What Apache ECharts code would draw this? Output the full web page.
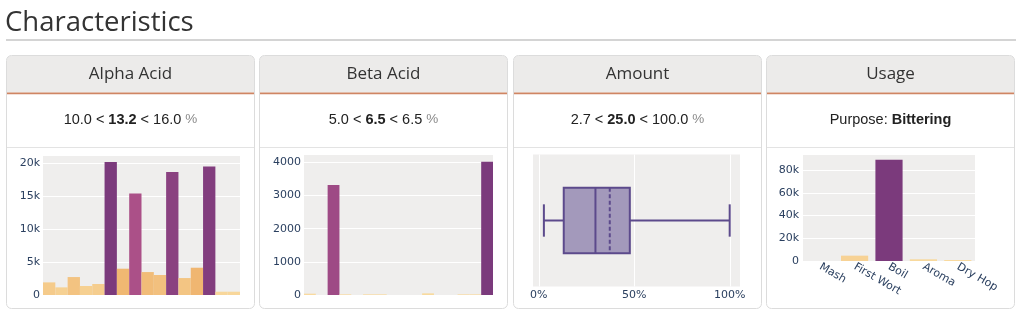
<!DOCTYPE html>
<html>
<head>
<meta charset="utf-8">
<script src="https://cdn.jsdelivr.net/npm/echarts@6.0.0/dist/echarts.min.js"></script>
<style>
  html, body { margin: 0; padding: 0; background: #ffffff; }
  #chart { width: 1024px; height: 322px; }
</style>
</head>
<body>
<div id="chart"></div>
<script>
// ---------------- data ----------------
const pageTitle = 'Characteristics';
const cardTitles = ['Alpha Acid', 'Beta Acid', 'Amount', 'Usage'];
const alphaStats = [10.0, 13.2, 16.0];
const betaStats = [5.0, 6.5, 6.5];
const amountStats = [2.7, 25.0, 100.0];
const purposeLabel = 'Purpose:';
const purposeValue = 'Bittering';

const alphaBins = ['b1','b2','b3','b4','b5','b6','b7','b8','b9','b10','b11','b12','b13','b14','b15','b16'];
const alphaCounts = [1920, 1160, 2730, 1370, 1670, 20250, 4000, 15440, 3490, 3040, 18730, 2580, 4150, 19540, 500, 500];
const alphaTicks = [0, 5000, 10000, 15000, 20000];

const betaBins = ['b1','b2','b3','b4','b5','b6','b7','b8','b9','b10','b11','b12','b13','b14','b15','b16'];
const betaCounts = [40, 0, 3317, 20, 0, 20, 20, 0, 0, 0, 50, 0, 0, 20, 20, 4020];
const betaTicks = [0, 1000, 2000, 3000, 4000];

const amountBox = [2.7, 13.1, 29.7, 47.7, 100.0];   // min, q1, median, q3, max
const amountMean = 37.2;
const amountTicks = [0, 50, 100];

const usageCategories = ['Mash', 'First Wort', 'Boil', 'Aroma', 'Dry Hop'];
const usageValues = [0, 4700, 89100, 1500, 900];
const usageTicks = [0, 20000, 40000, 60000, 80000];

// ---------------- styling ----------------
const colorScale = ['#f9dca1', '#eeae66', '#d0687f', '#ad5189', '#7b3a7c'];
const labelColor = '#2a3f5f';
const labelFont = 'DejaVu Sans';
const plotBg = '#efeeed';
const cardX0 = 6, cardPitch = 253.4, cardW = 249, cardTop = 55, cardBottom = 309;

const chart = echarts.init(document.getElementById('chart'), null, { renderer: 'canvas' });

function kfmt(v) {
  if (v === 0) return '0';
  return (v / 1000) + 'k';
}
function tickFormatter(ticks, fmt) {
  return function (v) {
    for (const t of ticks) { if (Math.abs(t - v) < 1e-6) return fmt(t); }
    return '';
  };
}

// ---------------- cards (graphic) ----------------
const graphics = [];
graphics.push({
  type: 'text',
  style: { x: 5, y: 23, text: pageTitle, verticalAlign: 'middle', fontFamily: 'Open Sans', fontWeight: 'normal', fontSize: 27.5, fill: '#333333' }
});
graphics.push({
  type: 'line', shape: { x1: 6, y1: 40, x2: 1016, y2: 40 },
  style: { stroke: '#d4d4d4', lineWidth: 2 }
});

const statTexts = [
  { text: '{n|' + alphaStats[0].toFixed(1) + ' < }{b|' + alphaStats[1].toFixed(1) + '}{n| < ' + alphaStats[2].toFixed(1) + ' }{u|%}' },
  { text: '{n|' + betaStats[0].toFixed(1) + ' < }{b|' + betaStats[1].toFixed(1) + '}{n| < ' + betaStats[2].toFixed(1) + ' }{u|%}' },
  { text: '{n|' + amountStats[0].toFixed(1) + ' < }{b|' + amountStats[1].toFixed(1) + '}{n| < ' + amountStats[2].toFixed(1) + ' }{u|%}' },
  { text: '{n|' + purposeLabel + ' }{b|' + purposeValue + '}' }
];
const richStyles = {
  n: { fontFamily: 'Liberation Sans', fontSize: 14.5, fill: '#222222' },
  b: { fontFamily: 'Liberation Sans', fontSize: 14.5, fontWeight: 'bold', fill: '#222222' },
  u: { fontFamily: 'Liberation Sans', fontSize: 13.5, fill: '#8a8a8a' }
};

cardTitles.forEach(function (title, i) {
  const x = Math.round(cardX0 + i * cardPitch);
  const cx = x + cardW / 2;
  // card outline
  graphics.push({
    type: 'rect', z: 5,
    shape: { x: x + 0.5, y: cardTop + 0.5, width: cardW - 1, height: cardBottom - cardTop - 1, r: 5 },
    style: { fill: 'none', stroke: '#dcdcdc', lineWidth: 1 }
  });
  // header
  graphics.push({
    type: 'rect', z: 1,
    shape: { x: x + 1, y: cardTop + 1, width: cardW - 2, height: 92.5 - cardTop - 1, r: [4, 4, 0, 0] },
    style: { fill: '#ecebea' }
  });
  graphics.push({
    type: 'line', z: 2,
    shape: { x1: x + 1, y1: 93.3, x2: x + cardW - 1, y2: 93.3 },
    style: { stroke: '#cf8563', lineWidth: 1.8 }
  });
  graphics.push({
    type: 'line', z: 2,
    shape: { x1: x + 1, y1: 147.5, x2: x + cardW - 1, y2: 147.5 },
    style: { stroke: '#e3e3e3', lineWidth: 1 }
  });
  graphics.push({
    type: 'text', z: 3,
    style: {
      x: cx, y: 74.5, text: title, align: 'center', verticalAlign: 'middle',
      fontFamily: 'Open Sans', fontSize: 17, fill: '#333333'
    }
  });
  graphics.push({
    type: 'text', z: 3,
    style: {
      x: cx, y: 119.5, text: statTexts[i].text, align: 'center', verticalAlign: 'middle',
      rich: richStyles
    }
  });
});

// ---------------- axes ----------------
const axisLabelBase = { color: labelColor, fontFamily: labelFont, fontSize: 11 };
const whiteSplit = { show: true, lineStyle: { color: '#ffffff', width: 1 } };

const grids = [
  { left: 43, top: 155, width: 197, height: 140 },
  { left: 304, top: 154.5, width: 189, height: 140.5 },
  { left: 533, top: 154.5, width: 207, height: 132 },
  { left: 803, top: 154.5, width: 172, height: 106.5 }
].map(g => Object.assign({ show: true, backgroundColor: plotBg, borderWidth: 0, containLabel: false }, g));

const xAxes = [
  { gridIndex: 0, type: 'category', data: alphaBins, axisLine: { show: false }, axisTick: { show: false }, axisLabel: { show: false } },
  { gridIndex: 1, type: 'category', data: betaBins, axisLine: { show: false }, axisTick: { show: false }, axisLabel: { show: false } },
  { gridIndex: 2, type: 'value', min: -3, max: 105.4,
    axisLine: { show: false }, axisTick: { show: false }, splitLine: { show: false },
    axisLabel: Object.assign({ margin: 3, customValues: amountTicks, formatter: tickFormatter(amountTicks, v => v + '%') }, axisLabelBase) },
  { gridIndex: 3, type: 'category', data: usageCategories,
    axisLine: { show: false }, axisTick: { show: false },
    axisLabel: Object.assign({ rotate: -30, margin: 5, interval: 0 }, axisLabelBase) }
];

const yAxes = [
  { gridIndex: 0, type: 'value', min: 0, max: 21300, interval: 5000,
    axisLine: { show: false }, axisTick: { show: false }, splitLine: whiteSplit,
    axisLabel: Object.assign({ margin: 3, formatter: tickFormatter(alphaTicks, kfmt) }, axisLabelBase) },
  { gridIndex: 1, type: 'value', min: 0, max: 4240, interval: 1000,
    axisLine: { show: false }, axisTick: { show: false }, splitLine: whiteSplit,
    axisLabel: Object.assign({ margin: 3, formatter: tickFormatter(betaTicks, v => String(v)) }, axisLabelBase) },
  { gridIndex: 2, type: 'category', data: ['Amount'],
    axisLine: { show: false }, axisTick: { show: false }, axisLabel: { show: false }, splitLine: { show: false } },
  { gridIndex: 3, type: 'value', min: 0, max: 93800, interval: 20000,
    axisLine: { show: false }, axisTick: { show: false }, splitLine: whiteSplit,
    axisLabel: Object.assign({ margin: 4, formatter: tickFormatter(usageTicks, kfmt) }, axisLabelBase) }
];

const boxLine = '#5c4a8c';
const boxFill = 'rgba(94,74,142,0.52)';

const series = [
  { type: 'bar', xAxisIndex: 0, yAxisIndex: 0, data: alphaCounts, barCategoryGap: '0%', silent: true },
  { type: 'bar', xAxisIndex: 1, yAxisIndex: 1, data: betaCounts, barCategoryGap: '0%', silent: true },
  {
    type: 'custom', xAxisIndex: 2, yAxisIndex: 2, silent: true, z: 1,
    data: amountTicks.map(v => [v, 0]),
    encode: { x: 0, y: 1 },
    renderItem: function (params, api) {
      const x = Math.round(api.coord([api.value(0), 0])[0]) + 0.5;
      const cs = params.coordSys;
      return { type: 'line', shape: { x1: x, y1: cs.y, x2: x, y2: cs.y + cs.height }, style: { stroke: '#ffffff', lineWidth: 1 } };
    }
  },
  {
    type: 'custom', xAxisIndex: 2, yAxisIndex: 2, silent: true, z: 2,
    data: [[amountBox[0], amountBox[1], amountBox[2], amountBox[3], amountBox[4], amountMean, 0]],
    encode: { x: [0, 1, 2, 3, 4, 5], y: 6 },
    renderItem: function (params, api) {
      const cat = api.value(6);
      const band = api.size([0, 1])[1];
      const pMin = api.coord([api.value(0), cat]);
      const pQ1 = api.coord([api.value(1), cat]);
      const pMed = api.coord([api.value(2), cat]);
      const pQ3 = api.coord([api.value(3), cat]);
      const pMax = api.coord([api.value(4), cat]);
      const pMean = api.coord([api.value(5), cat]);
      const cy = pMed[1];
      const half = band * 0.248;
      const capHalf = band * 0.1225;
      const st = { stroke: boxLine, lineWidth: 2 };
      return {
        type: 'group',
        children: [
          { type: 'line', shape: { x1: pMin[0], y1: cy, x2: pQ1[0], y2: cy }, style: st },
          { type: 'line', shape: { x1: pQ3[0], y1: cy, x2: pMax[0], y2: cy }, style: st },
          { type: 'line', shape: { x1: pMin[0], y1: cy - capHalf, x2: pMin[0], y2: cy + capHalf }, style: st },
          { type: 'line', shape: { x1: pMax[0], y1: cy - capHalf, x2: pMax[0], y2: cy + capHalf }, style: st },
          { type: 'rect', shape: { x: pQ1[0], y: cy - half, width: pQ3[0] - pQ1[0], height: 2 * half }, style: { fill: boxFill, stroke: boxLine, lineWidth: 2 } },
          { type: 'line', shape: { x1: pMed[0], y1: cy - half, x2: pMed[0], y2: cy + half }, style: st },
          { type: 'line', shape: { x1: pMean[0], y1: cy - half, x2: pMean[0], y2: cy + half }, style: { stroke: boxLine, lineWidth: 2, lineDash: [4, 2.5] } }
        ]
      };
    }
  },
  { type: 'bar', xAxisIndex: 3, yAxisIndex: 3, data: usageValues, barCategoryGap: '21%', silent: true }
];

const visualMaps = [
  { seriesIndex: 0, max: Math.max.apply(null, alphaCounts) },
  { seriesIndex: 1, max: Math.max.apply(null, betaCounts) },
  { seriesIndex: 4, max: Math.max.apply(null, usageValues) }
].map(v => ({ type: 'continuous', show: false, seriesIndex: v.seriesIndex, min: 0, max: v.max, inRange: { color: colorScale } }));

chart.setOption({
  animation: false,
  backgroundColor: '#ffffff',
  graphic: { elements: graphics },
  grid: grids,
  xAxis: xAxes,
  yAxis: yAxes,
  visualMap: visualMaps,
  series: series
});
</script>
</body>
</html>
